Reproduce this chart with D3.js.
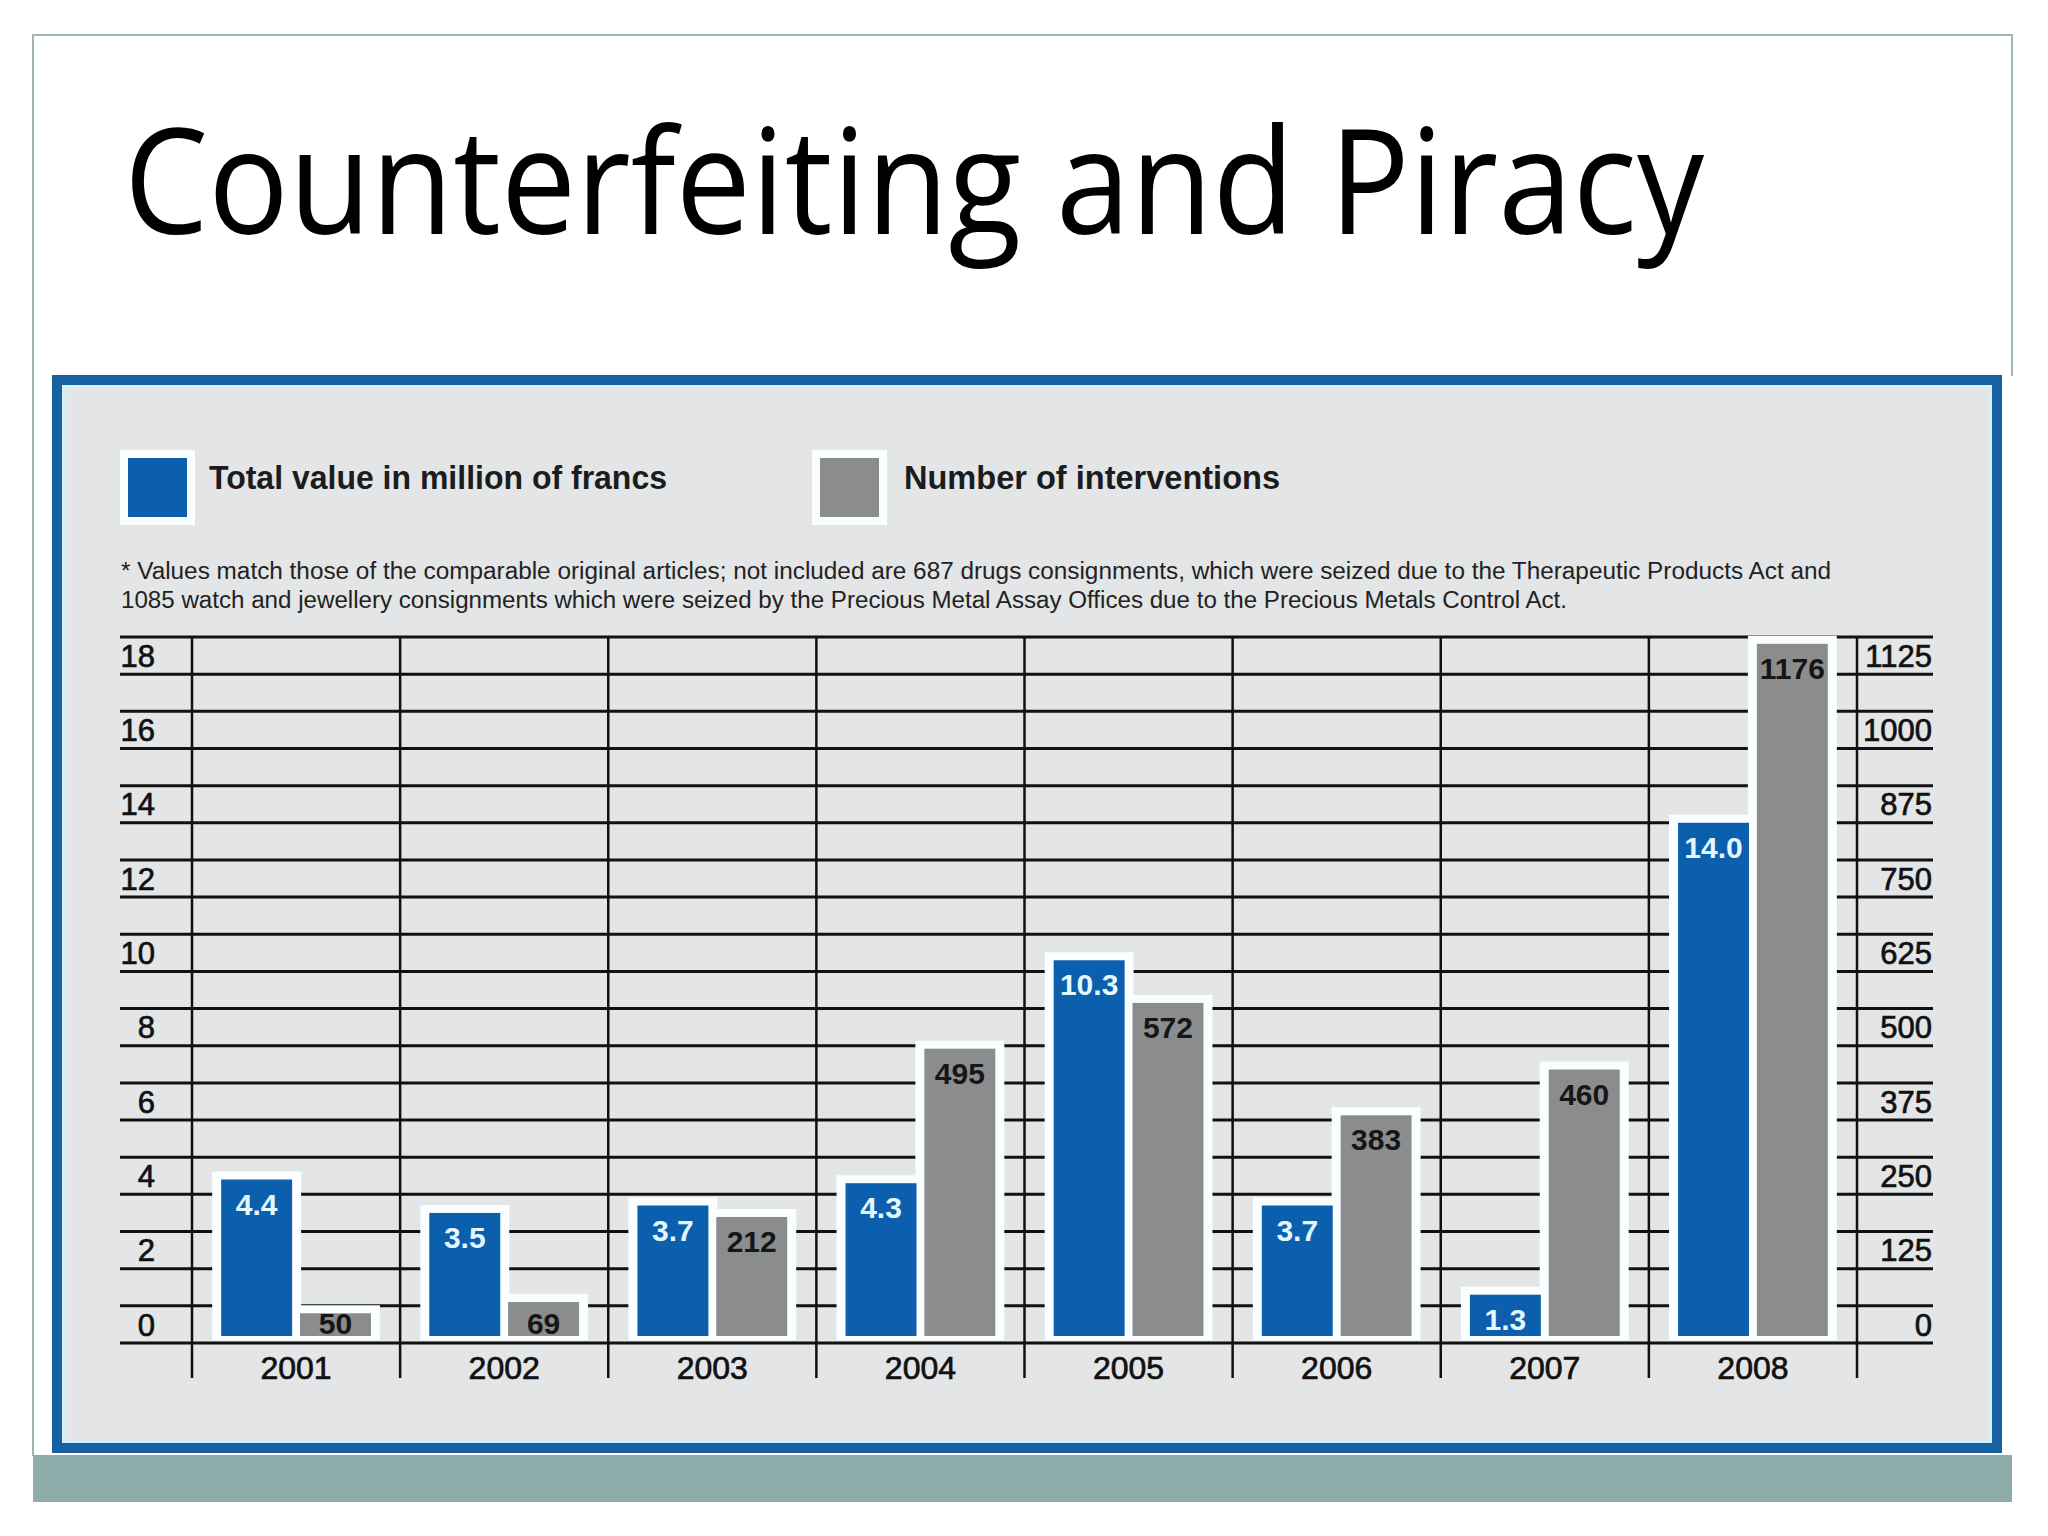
<!DOCTYPE html>
<html>
<head>
<meta charset="utf-8">
<script src="https://cdn.jsdelivr.net/npm/d3@7"></script>
<style>
  body { margin: 0; background: #fff; }
  svg { display: block; }
</style>
</head>
<body>
<script>
// data
const years = ["2001", "2002", "2003", "2004", "2005", "2006", "2007", "2008"];
const totalValue = [4.4, 3.5, 3.7, 4.3, 10.3, 3.7, 1.3, 14.0];      // million of francs
const interventions = [50, 69, 212, 495, 572, 383, 460, 1176];      // count
const leftTicks = [0, 2, 4, 6, 8, 10, 12, 14, 16, 18];
const rightTicks = [0, 125, 250, 375, 500, 625, 750, 875, 1000, 1125];
const legendLabels = ["Total value in million of francs", "Number of interventions"];
const footnote = [
  "* Values match those of the comparable original articles; not included are 687 drugs consignments, which were seized due to the Therapeutic Products Act and",
  "1085 watch and jewellery consignments which were seized by the Precious Metal Assay Offices due to the Precious Metals Control Act."
];
const title = "Counterfeiting and Piracy";

const W = 2048, H = 1536;
const blue = "#0b5fad", grey = "#8b8c8e";
const numFont = "'Liberation Sans', Arial, sans-serif";

const svg = d3.select("body").append("svg")
  .attr("width", W)
  .attr("height", H);

// slide frame + bottom band
svg.append("path")
  .attr("d", "M33,1456 V35 H2012 V376")
  .attr("fill", "none")
  .attr("stroke", "#9fb5b4")
  .attr("stroke-width", 2);

svg.append("rect")
  .attr("x", 33).attr("y", 1455)
  .attr("width", 1979).attr("height", 47)
  .attr("fill", "#8eacaa");

// title
svg.append("text")
  .attr("x", 124).attr("y", 234)
  .attr("font-family", "'Open Sans', 'Noto Sans', sans-serif")
  .attr("font-size", 146)
  .attr("textLength", 1580)
  .attr("lengthAdjust", "spacingAndGlyphs")
  .attr("fill", "#000")
  .text(title);

// chart panel
svg.append("rect")
  .attr("x", 52).attr("y", 375).attr("width", 1950).attr("height", 1078)
  .attr("fill", "#1761a3");
svg.append("rect")
  .attr("x", 62).attr("y", 385).attr("width", 1930).attr("height", 1058)
  .attr("fill", "#d3eff8");
svg.append("rect")
  .attr("x", 65).attr("y", 388).attr("width", 1924).attr("height", 1052)
  .attr("fill", "#e3e5e6");

// legend
const legendX = [128, 820];
const legendColors = [blue, grey];
legendLabels.forEach((label, i) => {
  svg.append("rect")
    .attr("x", legendX[i] - 8).attr("y", 450)
    .attr("width", 75).attr("height", 75)
    .attr("fill", "#fbfeff");
  svg.append("rect")
    .attr("x", legendX[i]).attr("y", 458)
    .attr("width", 59).attr("height", 59)
    .attr("fill", legendColors[i]);
});
const legendTextX = [209, 904];
const legendTextW = [458, 376];
legendLabels.forEach((label, i) => {
  svg.append("text")
    .attr("x", legendTextX[i]).attr("y", 489)
    .attr("font-family", numFont)
    .attr("font-weight", "bold")
    .attr("font-size", 33)
    .attr("textLength", legendTextW[i])
    .attr("lengthAdjust", "spacingAndGlyphs")
    .attr("fill", "#1c1c1c")
    .text(label);
});

// footnote
const footW = [1710, 1446];
footnote.forEach((line, i) => {
  svg.append("text")
    .attr("x", 121).attr("y", 579 + i * 29)
    .attr("font-family", numFont)
    .attr("font-size", 23)
    .attr("textLength", footW[i])
    .attr("lengthAdjust", "spacingAndGlyphs")
    .attr("fill", "#222")
    .text(line);
});

// scales
const yLeft = d3.scaleLinear().domain([0, 19]).range([1343, 637]);
const yRight = d3.scaleLinear().domain([0, 1125 / 18 * 19]).range([1343, 637]);

const x = d3.scaleBand().domain(years).range([192, 1857]);
const x1 = d3.scaleBand().domain(["value", "count"])
  .range([0, x.bandwidth()])
  .paddingInner(0.1)
  .paddingOuter(0.37);

// grid
const grid = svg.append("g").attr("stroke", "#111").attr("stroke-width", 3);
grid.selectAll("line.h")
  .data(d3.range(0, 20))
  .enter().append("line")
  .attr("class", "h")
  .attr("x1", 120).attr("x2", 1933)
  .attr("y1", d => yLeft(d)).attr("y2", d => yLeft(d));

grid.selectAll("line.v")
  .data(years.map(d => x(d)).concat([x.range()[1]]))
  .enter().append("line")
  .attr("class", "v")
  .attr("x1", d => d).attr("x2", d => d)
  .attr("y1", yLeft(19)).attr("y2", 1378)
  .attr("stroke-width", 2.5);

// axis labels (sit in the band above their line)
const tickStyle = sel => sel
  .attr("font-family", numFont)
  .attr("font-size", 31)
  .attr("fill", "#111")
  .attr("stroke", "#111")
  .attr("stroke-width", 0.7);

svg.append("g").selectAll("text")
  .data(leftTicks)
  .enter().append("text")
  .attr("x", 155)
  .attr("y", d => yLeft(d + 0.5))
  .attr("dy", "0.36em")
  .attr("text-anchor", "end")
  .call(tickStyle)
  .text(d => d);

svg.append("g").selectAll("text")
  .data(rightTicks)
  .enter().append("text")
  .attr("x", 1932)
  .attr("y", d => yRight(d + 1125 / 36))
  .attr("dy", "0.36em")
  .attr("text-anchor", "end")
  .call(tickStyle)
  .text(d => d);

svg.append("g").selectAll("text")
  .data(years)
  .enter().append("text")
  .attr("x", d => x(d) + x.bandwidth() / 2)
  .attr("y", 1379)
  .attr("text-anchor", "middle")
  .call(tickStyle)
  .attr("font-size", 32)
  .text(d => d);

// bars
const series = [
  { key: "value", values: totalValue, scale: yLeft, color: blue, labelColor: "#e4f7fd", fmt: d3.format(".1f") },
  { key: "count", values: interventions, scale: yRight, color: grey, labelColor: "#161616", fmt: d3.format("d") }
];

const groups = svg.append("g").selectAll("g")
  .data(years)
  .enter().append("g")
  .attr("transform", d => "translate(" + x(d) + ",0)");

// white halo behind every bar first, so it cuts the grid
series.forEach(s => {
  groups.append("rect")
    .attr("x", x1(s.key) - 9)
    .attr("y", (d, i) => s.scale(s.values[i]) - 8)
    .attr("width", x1.bandwidth() + 18)
    .attr("height", (d, i) => yLeft(0) - 3 - s.scale(s.values[i]) + 8)
    .attr("fill", "#fafeff");
});

series.forEach(s => {
  groups.append("rect")
    .attr("x", x1(s.key))
    .attr("y", (d, i) => s.scale(s.values[i]))
    .attr("width", x1.bandwidth())
    .attr("height", (d, i) => yLeft(0) - 7 - s.scale(s.values[i]))
    .attr("fill", s.color);

  groups.append("text")
    .attr("x", x1(s.key) + x1.bandwidth() / 2)
    .attr("y", (d, i) => Math.min(s.scale(s.values[i]) + 35, yLeft(0) - 9))
    .attr("text-anchor", "middle")
    .attr("font-family", numFont)
    .attr("font-weight", "bold")
    .attr("font-size", 30)
    .attr("fill", s.labelColor)
    .text((d, i) => s.fmt(s.values[i]));
});
</script>
</body>
</html>
